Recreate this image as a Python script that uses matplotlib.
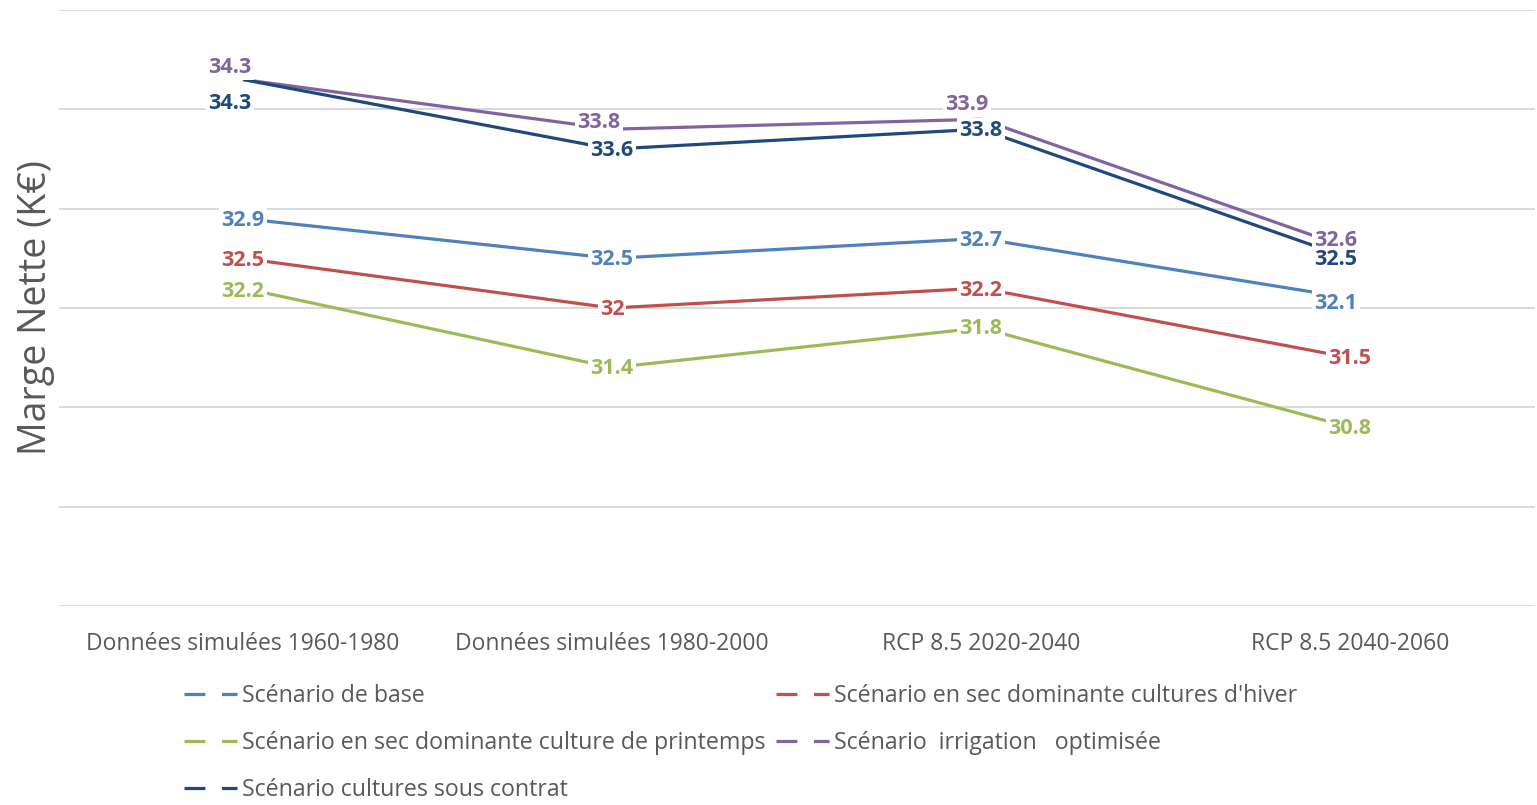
import matplotlib
matplotlib.use("Agg")
import matplotlib.pyplot as plt
from matplotlib.lines import Line2D

categories = ["Données simulées 1960-1980", "Données simulées 1980-2000",
              "RCP 8.5 2020-2040", "RCP 8.5 2040-2060"]
base = [32.9, 32.5, 32.7, 32.1]
hiver = [32.5, 32.0, 32.2, 31.5]
printemps = [32.2, 31.4, 31.8, 30.8]
irrigation = [34.3, 33.8, 33.9, 32.6]
contrat = [34.3, 33.6, 33.8, 32.5]
label_text = {
    "base": ["32.9", "32.5", "32.7", "32.1"],
    "hiver": ["32.5", "32", "32.2", "31.5"],
    "printemps": ["32.2", "31.4", "31.8", "30.8"],
    "irrigation": ["34.3", "33.8", "33.9", "32.6"],
    "contrat": ["34.3", "33.6", "33.8", "32.5"],
}
names = {
    "base": "Scénario de base",
    "hiver": "Scénario en sec dominante cultures d'hiver",
    "printemps": "Scénario en sec dominante culture de printemps",
    "irrigation": "Scénario  irrigation   optimisée",
    "contrat": "Scénario cultures sous contrat",
}
series = {"base": base, "hiver": hiver, "printemps": printemps,
          "irrigation": irrigation, "contrat": contrat}
colors = {"base": "#4F81BD", "hiver": "#C0504D", "printemps": "#9BBB59",
          "irrigation": "#8064A2", "contrat": "#1F497D"}

# label offsets in pixels (dx right, dy down)
offsets = {
    "base": [(0, 2), (0, 1), (0, 2), (-14, 5)],
    "hiver": [(0, 2), (0, 1), (0, 2), (0, 1)],
    "printemps": [(0, 3), (0, 1), (0, 1), (0, 1)],
    "irrigation": [(-13, -12), (-13, -7), (-14, -15), (-14, -8)],
    "contrat": [(-13, 24), (0, 1), (0, 1), (-14, 1)],
}

W, H, DPI = 1537, 805, 100
plt.rcParams["lines.scale_dashes"] = False
fig = plt.figure(figsize=(W / DPI, H / DPI), dpi=DPI)
ax = fig.add_axes([58.5 / W, 1 - 606 / H, (1534.5 - 58.5) / W, (606 - 10) / H])

x = list(range(len(categories)))
lw = 2.3
order = ["base", "hiver", "printemps", "irrigation", "contrat"]
for k in order:
    ax.plot(x, series[k], color=colors[k], lw=lw, zorder=3, solid_capstyle="butt")

px2pt = 72 / DPI
for k in order:
    for i, v in enumerate(series[k]):
        dx, dy = offsets[k][i]
        ax.annotate(label_text[k][i], (x[i], v), xytext=(dx * px2pt, -dy * px2pt),
                    textcoords="offset points", ha="center", va="center",
                    fontsize=15.5, fontweight="bold", color=colors[k],
                    family="Open Sans", zorder=5,
                    bbox=dict(facecolor="white", edgecolor="none", pad=1.5))

ax.set_xlim(-0.5, 3.5)
ax.set_ylim(29, 35)
ax.set_yticks([29, 30, 31, 32, 33, 34, 35])
ax.yaxis.grid(True, color="#D9D9D9", lw=1.4)
ax.set_axisbelow(True)
ax.tick_params(axis="y", left=False, labelleft=False)
ax.tick_params(axis="x", length=0, pad=19, labelsize=16.5, labelcolor="#595959")
ax.set_xticks(x)
ax.set_xticklabels(categories, family="Open Sans")
for s in ax.spines.values():
    s.set_visible(False)

fig.text(36 / W, 1 - 308 / H, "Marge Nette (K€)", rotation=90, ha="center", va="center",
         fontsize=27, color="#595959", family="Open Sans")

dash = (0, (15, 12, 20, 2))
leg_order = ["base", "printemps", "contrat", "hiver", "irrigation"]
handles = [Line2D([0], [0], color=colors[k], lw=lw, linestyle=dash) for k in leg_order]
fs = 16.7
leg = fig.legend(handles, [names[k] for k in leg_order], ncol=2,
                 loc="upper left", bbox_to_anchor=(184 / W, 1 - 684 / H),
                 frameon=False, prop={"family": "Open Sans", "size": fs},
                 labelcolor="#595959", handlelength=38.2 / fs, handletextpad=0.22,
                 columnspacing=0.43, labelspacing=1.0, borderpad=0, borderaxespad=0)

fig.savefig("out.png", dpi=DPI, facecolor="white")
